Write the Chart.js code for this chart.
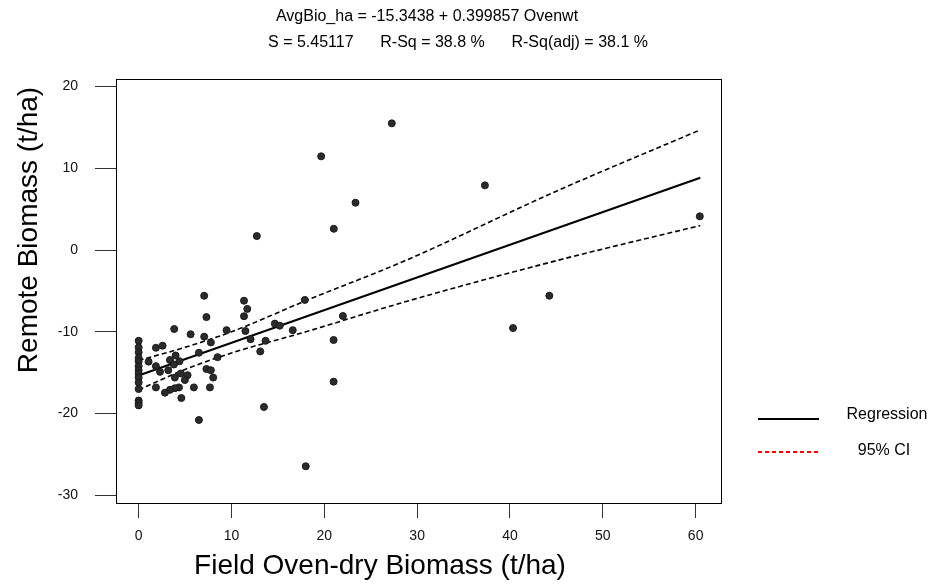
<!DOCTYPE html>
<html>
<head>
<meta charset="utf-8">
<script src="https://cdn.jsdelivr.net/npm/chart.js@4"></script>
<style>
  body { margin: 0; background: #fff; }
  #wrap { width: 933px; height: 584px; }
</style>
</head>
<body>
<div id="wrap"><canvas id="grafico" width="933" height="584"></canvas></div>
<script>
// field oven-dry biomass (x) vs remote biomass (y), t/ha
const ovenwt = [
  0, 0, 0, 0, 0, 0, 0, 0, 0, 0, 0, 0, 0, 0,
  1.86, 2.58, 3.83, 5.6, 7.06, 7.3, 7.06, 7.78, 9.47, 1.07, 1.86, 2.3, 3.37, 3.98,
  3.8, 3.19, 3.9, 4.55, 5.27, 4.98, 6.49, 7.3, 7.78, 8.03, 8.5, 7.68, 5.95, 4.34,
  3.9, 3.37, 2.83, 1.86, 4.6, 4.4,
  11.35, 11.7, 11.35, 17.9, 11.5, 14.67, 15.2, 16.6, 12.05, 13.67, 13.1, 13.5,
  21.0, 21.0, 22.0, 18.0, 6.49,
  27.27, 19.66, 23.36, 21.02, 12.73, 37.3, 60.45, 44.24, 40.33
];
const avgBio = [
  -11.1, -11.9, -12.5, -13.2, -13.6, -14.2, -14.7, -15.1, -15.6, -16.2, -17.0, -18.4, -18.7, -19.0,
  -11.95, -11.7, -9.66, -10.3, -5.6, -8.2, -10.6, -11.3, -9.8, -13.65, -14.2, -14.9, -13.45, -12.9,
  -14.0, -14.7, -15.6, -15.1, -15.3, -15.9, -12.56, -14.55, -14.7, -15.6, -13.1, -16.8, -16.8, -16.8,
  -16.9, -17.1, -17.45, -16.8, -18.1, -13.6,
  -6.2, -7.2, -8.1, -6.1, -9.9, -9.0, -9.25, -9.8, -10.9, -11.1, -12.4, -19.2,
  -11.0, -16.1, -8.07, -26.45, -20.79,
  15.5, 11.46, 5.79, 2.6, 1.71, 7.91, 4.12, -5.59, -9.54
];

// fitted line end points
const fitX = [0, 60.5];
const fitY = [-15.34, 8.85];

// 95% confidence band
const ciX = [0, 5, 10, 18, 28.5, 45, 60.5];
const ciUpper = [-13.5, -11.9, -10.0, -6.2, -1.4, 7.2, 14.7];
const ciLower = [-17.1, -14.6, -12.6, -10.0, -6.4, -1.3, 3.0];

const xTicks = [0, 10, 20, 30, 40, 50, 60];
const yTicks = [-30, -20, -10, 0, 10, 20];

const header1 = 'AvgBio_ha = -15.3438 + 0.399857 Ovenwt';
const header2 = 'S = 5.45117      R-Sq = 38.8 %      R-Sq(adj) = 38.1 %';
const xTitle = 'Field Oven-dry Biomass (t/ha)';
const yTitle = 'Remote Biomass (t/ha)';
const legendLabels = ['Regression', '95% CI'];

const pares = (xs, ys) => xs.map((x, i) => ({ x: x, y: ys[i] }));

const textos = {
  id: 'textos',
  afterDraw(chart) {
    const c = chart.ctx;
    const a = chart.chartArea;
    c.save();
    // frame
    c.strokeStyle = '#000';
    c.lineWidth = 1;
    c.strokeRect(a.left + 0.5, a.top + 0.5, a.right - a.left - 1, a.bottom - a.top);

    c.fillStyle = '#000';
    c.textAlign = 'center';
    c.textBaseline = 'middle';
    c.font = '16px "Liberation Sans", Arial, sans-serif';
    c.fillText(header1, 427, 17);
    c.fillText(header2, 458, 43);

    c.font = '28px "Liberation Sans", Arial, sans-serif';
    c.fillText(xTitle, 380, 566);
    c.save();
    c.translate(29, 230);
    c.rotate(-Math.PI / 2);
    c.fillText(yTitle, 0, 0);
    c.restore();

    // legend
    c.font = '16px "Liberation Sans", Arial, sans-serif';
    c.fillText(legendLabels[0], 887, 415);
    c.fillText(legendLabels[1], 884, 451);
    c.beginPath();
    c.lineWidth = 2;
    c.moveTo(758, 419);
    c.lineTo(819, 419);
    c.stroke();
    c.beginPath();
    c.strokeStyle = '#ff0000';
    c.setLineDash([4, 3]);
    c.moveTo(758, 452);
    c.lineTo(819, 452);
    c.stroke();
    c.restore();
  }
};

const ctx = document.getElementById('grafico').getContext('2d');
new Chart(ctx, {
  type: 'scatter',
  data: {
    datasets: [
      {
        label: 'AvgBio_ha',
        data: pares(ovenwt, avgBio),
        backgroundColor: '#2b2b2b',
        borderColor: '#1a1a1a',
        borderWidth: 1,
        pointRadius: 3.5
      },
      {
        label: 'Regression',
        data: pares(fitX, fitY),
        showLine: true,
        borderColor: '#000',
        borderWidth: 2,
        pointRadius: 0
      },
      {
        label: 'Upper CI',
        data: pares(ciX, ciUpper),
        showLine: true,
        borderColor: '#000',
        borderWidth: 1.6,
        borderDash: [5, 3],
        pointRadius: 0,
        cubicInterpolationMode: 'monotone'
      },
      {
        label: 'Lower CI',
        data: pares(ciX, ciLower),
        showLine: true,
        borderColor: '#000',
        borderWidth: 1.6,
        borderDash: [5, 3],
        pointRadius: 0,
        cubicInterpolationMode: 'monotone'
      }
    ]
  },
  options: {
    responsive: false,
    animation: false,
    layout: { padding: { left: 0, right: 211, top: 79, bottom: 0 } },
    plugins: {
      legend: { display: false },
      title: { display: false },
      tooltip: { enabled: false }
    },
    scales: {
      x: {
        type: 'linear',
        min: -2.44,
        max: 62.84,
        afterBuildTicks: (s) => { s.ticks = xTicks.map(v => ({ value: v })); },
        afterFit: (s) => { s.height = 81; },
        border: { display: false },
        grid: { drawOnChartArea: false, drawTicks: true, tickLength: 15, color: '#333' },
        ticks: {
          padding: 10,
          color: '#111',
          font: { family: '"Liberation Sans", Arial, sans-serif', size: 14 }
        }
      },
      y: {
        type: 'linear',
        min: -30.94,
        max: 20.92,
        afterBuildTicks: (s) => { s.ticks = yTicks.map(v => ({ value: v })); },
        afterFit: (s) => { s.width = 116; },
        border: { display: false },
        grid: { drawOnChartArea: false, drawTicks: true, tickLength: 21, color: '#333' },
        ticks: {
          padding: 17,
          color: '#111',
          font: { family: '"Liberation Sans", Arial, sans-serif', size: 14 }
        }
      }
    }
  },
  plugins: [textos]
});
</script>
</body>
</html>
